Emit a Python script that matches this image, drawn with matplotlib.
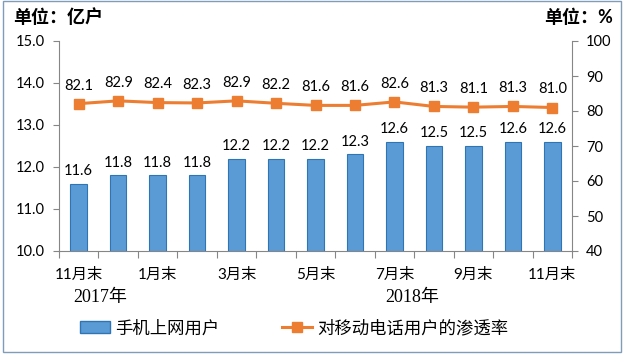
#!/usr/bin/env python3
# -*- coding: utf-8 -*-
"""手机上网用户与渗透率：柱状图 + 折线（双轴）。"""

import matplotlib
matplotlib.use("Agg")
import matplotlib.pyplot as plt
from matplotlib.patches import Rectangle
from matplotlib.lines import Line2D

plt.rcParams['font.family'] = ['Lato', 'Noto Sans CJK SC', 'DejaVu Sans']

# 数据
months = ["11月末", "12月末", "1月末", "2月末", "3月末", "4月末", "5月末",
          "6月末", "7月末", "8月末", "9月末", "10月末", "11月末"]
users = [11.6, 11.8, 11.8, 11.8, 12.2, 12.2, 12.2, 12.3, 12.6, 12.5, 12.5, 12.6, 12.6]
rate = [82.1, 82.9, 82.4, 82.3, 82.9, 82.2, 81.6, 81.6, 82.6, 81.3, 81.1, 81.3, 81.0]
years = ["2017年", "2018年"]
year_pos = [0.55, 8.45]

BAR_COLOR = "#5B9BD5"
BAR_EDGE = "#2E75B6"
LINE_COLOR = "#ED7D31"
AXIS_COLOR = "#868686"


def main():
    fig = plt.figure(figsize=(6.25, 3.56), dpi=100)
    ax = fig.add_axes([59 / 625, 1 - 251 / 356, (572 - 59) / 625, 210 / 356])
    ax2 = ax.twinx()

    n = len(months)
    x = list(range(n))
    ax.bar(x, users, width=0.42, color=BAR_COLOR, edgecolor=BAR_EDGE, linewidth=0.8, zorder=2)
    for xi, v in zip(x, users):
        ax.annotate(f"{v:.1f}", (xi, v), xytext=(0, 4), textcoords="offset points",
                    ha="center", va="bottom", fontsize=10.5)

    ax2.plot(x, rate, color=LINE_COLOR, lw=2.2, marker="s", ms=7, zorder=3)
    for xi, v in zip(x, rate):
        ax2.annotate(f"{v:.1f}", (xi, v), xytext=(0, 8), textcoords="offset points",
                     ha="center", va="bottom", fontsize=10.5)

    ax.set_xlim(-0.5, n - 0.5)
    ax.set_ylim(10, 15)
    ax.set_yticks([10, 11, 12, 13, 14, 15])
    ax.set_yticklabels([f"{v:.1f}" for v in [10, 11, 12, 13, 14, 15]], fontsize=10.5)
    ax2.set_ylim(40, 100)
    ax2.set_yticks(range(40, 101, 10))
    ax2.set_yticklabels([str(v) for v in range(40, 101, 10)], fontsize=10.5)

    # 刻度在类别边界，标签隔一个显示
    ax.set_xticks([i - 0.5 for i in range(n + 1)])
    ax.set_xticklabels([])
    ax.set_xticks(x, minor=True)
    ax.set_xticklabels([m if i % 2 == 0 else "" for i, m in enumerate(months)],
                       minor=True, fontsize=11)
    ax.tick_params(axis="x", which="minor", length=0, pad=12)
    ax.tick_params(axis="x", which="major", length=5, color=AXIS_COLOR)
    ax.tick_params(axis="y", length=4, color=AXIS_COLOR, pad=6)
    ax2.tick_params(axis="y", length=4, color=AXIS_COLOR, pad=6)

    for a in (ax, ax2):
        a.spines["top"].set_visible(False)
        for s in ("left", "right", "bottom"):
            a.spines[s].set_color(AXIS_COLOR)
    ax.spines["right"].set_visible(False)
    ax2.spines["left"].set_visible(False)
    ax2.spines["bottom"].set_visible(False)

    for yl, xp in zip(years, year_pos):
        ax.text(xp, -0.22, yl, transform=ax.get_xaxis_transform(), ha="center", va="center",
                fontsize=13, family=["Liberation Serif", "Noto Sans CJK SC"])

    fig.text(13 / 625, 1 - 17 / 356, "单位：亿户", fontsize=13, fontweight="bold",
             ha="left", va="center")
    fig.text(613 / 625, 1 - 17 / 356, "单位：%", fontsize=13, fontweight="bold",
             ha="right", va="center")

    # 图例
    handles = [Rectangle((0, 0), 1, 1, facecolor=BAR_COLOR, edgecolor=BAR_EDGE),
               Line2D([], [], color=LINE_COLOR, lw=2.2, marker="s", ms=7)]
    fig.legend(handles, ["手机上网用户", "对移动电话用户的渗透率"], loc="center left",
               bbox_to_anchor=(64 / 625, 1 - 328 / 356), ncol=2, frameon=False,
               fontsize=12.5, columnspacing=3.6, handlelength=1.75, handletextpad=0.3)

    fig.patches.append(Rectangle((0.004, 0.012), 0.99, 0.985, transform=fig.transFigure,
                                 fill=False, edgecolor="#7F9DB9", lw=1.0))

    fig.savefig("out.png", dpi=100)


if __name__ == "__main__":
    main()
